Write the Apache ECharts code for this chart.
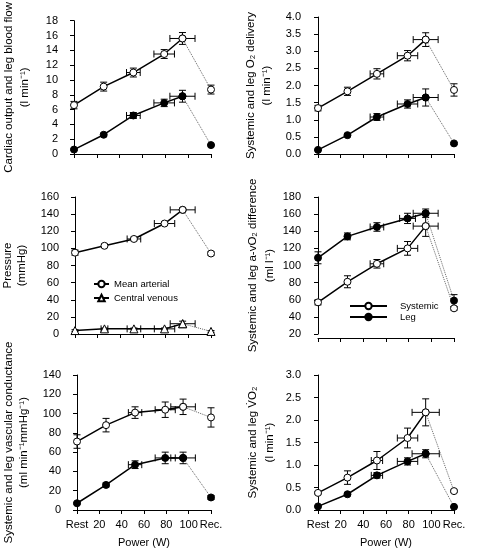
<!DOCTYPE html>
<html><head><meta charset="utf-8">
<script src="https://cdn.jsdelivr.net/npm/echarts@6/dist/echarts.min.js"></script>
<style>html,body{margin:0;padding:0;background:#fff}#c{width:480px;height:550px}</style>
</head><body><div id="c"></div>
<script>
// x positions (W): Rest, ~26, ~52, ~79, ~95 W, Rec.
const power = [0, 26, 52, 79, 95, 120];
const xTickLabels = ['Rest', '20', '40', '60', '80', '100', 'Rec.'];

// Panel 1: cardiac output (open) and leg blood flow (filled), l/min
const cardiacOutput = [6.6, 9.1, 11.0, 13.5, 15.6, 8.7];
const cardiacOutputErr = [0.5, 0.6, 0.6, 0.6, 0.8, 0.6];
const legFlow = [0.6, 2.6, 5.2, 6.9, 7.8, 1.2];
const legFlowErr = [0.1, 0.2, 0.4, 0.5, 0.8, 0.1];

// Panel 2: O2 delivery, l/min
const sysO2Del = [1.34, 1.83, 2.34, 2.87, 3.34, 1.87];
const sysO2DelErr = [0.08, 0.12, 0.15, 0.15, 0.2, 0.18];
const legO2Del = [0.12, 0.55, 1.08, 1.46, 1.65, 0.31];
const legO2DelErr = [0.02, 0.04, 0.1, 0.12, 0.25, 0.03];

// Panel 3: pressures, mmHg
const meanArterial = [95, 103, 111, 129, 145, 94];
const meanArterialErr = [3, 2, 2, 2, 2, 2];
const centralVenous = [4, 6, 6, 6, 12, 3];
const centralVenousErr = [1, 1, 1, 1, 3, 1];

// Panel 4: a-vO2 difference, ml/l
const sysAvO2 = [57, 81, 102, 120, 146, 50];
const sysAvO2Err = [3, 7, 5, 8, 12, 2];
const legAvO2 = [109, 134, 145, 155, 161, 59];
const legAvO2Err = [7, 4, 5, 6, 5, 7];

// Panel 5: vascular conductance
const sysCond = [71, 88, 101, 104, 107, 96];
const sysCondErr = [7, 7, 6, 8, 8, 10];
const legCond = [7, 26, 47, 54, 54, 13];
const legCondErr = [1, 2, 4, 6, 6, 2];

// Panel 6: VO2, l/min
const sysVO2 = [0.38, 0.72, 1.1, 1.6, 2.17, 0.42];
const sysVO2Err = [0.03, 0.15, 0.2, 0.22, 0.3, 0.03];
const legVO2 = [0.08, 0.35, 0.77, 1.08, 1.25, 0.07];
const legVO2Err = [0.01, 0.03, 0.06, 0.08, 0.09, 0.01];

// horizontal (power) error, W
const powerErr = [0, 0, 6, 9, 11, 0];
const powerErrCV = [0, 3, 6, 9, 11, 0];
const powerErrLegAv = [0, 0, 6, 7, 11, 0];
const powerErrVO2 = [0, 0, 5, 9, 12, 0];

const FONT = "'Liberation Sans', Arial, Helvetica, sans-serif";
const chart = echarts.init(document.getElementById('c'), null, {renderer: 'canvas'});

const grids = [
  {left: 74, top: 17, width: 137, height: 137},
  {left: 318, top: 17, width: 136, height: 137},
  {left: 74, top: 197, width: 137, height: 137},
  {left: 318, top: 197, width: 136, height: 137},
  {left: 74, top: 375, width: 137, height: 135},
  {left: 318, top: 375, width: 136, height: 135}
];
const yDefs = [
  {min: 0, max: 18, interval: 2, dec: 0, name: 'Cardiac output and leg blood flow\n(l min⁻¹)', gap: 33, lh: 16},
  {min: 0, max: 4, interval: 0.5, dec: 1, name: 'Systemic and leg O₂ delivery\n(l min⁻¹)', gap: 34, lh: 16},
  {min: 0, max: 160, interval: 20, dec: 0, name: 'Pressure\n(mmHg)', gap: 38, lh: 14},
  {min: 20, max: 180, interval: 20, dec: 0, name: 'Systemic and leg a-vO₂ difference\n(ml l⁻¹)', gap: 31, lh: 17},
  {min: 0, max: 140, interval: 20, dec: 0, name: 'Systemic and leg vascular conductance\n(ml min⁻¹mmHg⁻¹)', gap: 38, lh: 15},
  {min: 0, max: 3, interval: 0.5, dec: 1, name: 'Systemic and leg V̇O₂\n(l min⁻¹)', gap: 31, lh: 17}
];

const xAxes = grids.map((g, i) => ({
  type: 'value', gridIndex: i, min: 0, max: 120, interval: 20,
  offset: i >= 4 ? 3 : 4,
  axisLine: {show: true, lineStyle: {color: '#000', width: 1}},
  axisTick: {show: true, length: 4, lineStyle: {color: '#000'}},
  splitLine: {show: false},
  axisLabel: {show: i >= 4, margin: 6, fontSize: 11, color: '#000', fontFamily: FONT,
    formatter: v => xTickLabels[Math.round(v / 20)]},
  name: i >= 4 ? 'Power (W)' : '', nameLocation: 'middle', nameGap: 24,
  nameTextStyle: {fontSize: 11, color: '#000', fontFamily: FONT}
}));
const yAxes = yDefs.map((d, i) => ({
  type: 'value', gridIndex: i, min: d.min, max: d.max, interval: d.interval,
  offset: i % 2 === 0 ? 8 : 9,
  axisLine: {show: true, lineStyle: {color: '#000', width: 1}},
  axisTick: {show: true, length: 4, lineStyle: {color: '#000'}},
  splitLine: {show: false},
  axisLabel: {margin: 8, fontSize: 11, color: '#000', fontFamily: FONT,
    formatter: v => v.toFixed(d.dec)},
  name: d.name, nameLocation: 'middle', nameRotate: 90, nameGap: d.gap,
  nameTextStyle: {fontSize: 11.5, lineHeight: d.lh, color: '#000', fontFamily: FONT, align: 'center'}
}));

const series = [];
function addGroup(gi, name, vals, yerr, xerr, filled, symbol) {
  const ebData = vals.map((v, k) => [power[k], v, yerr[k], xerr[k]]);
  series.push({
    type: 'custom', xAxisIndex: gi, yAxisIndex: gi, z: 2, clip: false,
    encode: {x: 0, y: 1}, silent: true,
    data: ebData,
    renderItem: function (params, api) {
      const x = api.value(0), y = api.value(1), ye = api.value(2), xe = api.value(3);
      const ch = [];
      const st = {stroke: '#000', lineWidth: 1};
      const cap = 3.5;
      if (ye > 0) {
        const t = api.coord([x, y + ye]), b = api.coord([x, y - ye]);
        ch.push({type: 'line', shape: {x1: t[0], y1: t[1], x2: b[0], y2: b[1]}, style: st});
        ch.push({type: 'line', shape: {x1: t[0] - cap, y1: t[1], x2: t[0] + cap, y2: t[1]}, style: st});
        ch.push({type: 'line', shape: {x1: b[0] - cap, y1: b[1], x2: b[0] + cap, y2: b[1]}, style: st});
      }
      if (xe > 0) {
        const l = api.coord([x - xe, y]), r = api.coord([x + xe, y]);
        ch.push({type: 'line', shape: {x1: l[0], y1: l[1], x2: r[0], y2: r[1]}, style: st});
        ch.push({type: 'line', shape: {x1: l[0], y1: l[1] - cap, x2: l[0], y2: l[1] + cap}, style: st});
        ch.push({type: 'line', shape: {x1: r[0], y1: r[1] - cap, x2: r[0], y2: r[1] + cap}, style: st});
      }
      return {type: 'group', children: ch};
    }
  });
  const itemStyle = filled ? {color: '#000', borderColor: '#000', borderWidth: 1}
                           : {color: '#fff', borderColor: '#000', borderWidth: 1};
  const symSize = symbol === 'triangle' ? 8 : 7;
  series.push({
    type: 'line', name: name + ' (recovery)', xAxisIndex: gi, yAxisIndex: gi, z: 3,
    data: [[power[4], vals[4]], [power[5], vals[5]]],
    symbol: symbol, symbolSize: symSize, showSymbol: true, clip: false,
    itemStyle: itemStyle,
    lineStyle: {color: '#666', width: 1, type: 'dotted'}
  });
  series.push({
    type: 'line', name: name, xAxisIndex: gi, yAxisIndex: gi, z: 3,
    data: vals.slice(0, 5).map((v, k) => [power[k], v]),
    symbol: symbol, symbolSize: symSize, showSymbol: true, clip: false,
    itemStyle: itemStyle,
    lineStyle: {color: '#000', width: 1.5}
  });
}

addGroup(0, 'Cardiac output', cardiacOutput, cardiacOutputErr, powerErr, false, 'circle');
addGroup(0, 'Leg blood flow', legFlow, legFlowErr, powerErr, true, 'circle');
addGroup(1, 'Systemic O₂ delivery', sysO2Del, sysO2DelErr, powerErr, false, 'circle');
addGroup(1, 'Leg O₂ delivery', legO2Del, legO2DelErr, powerErr, true, 'circle');
addGroup(2, 'Mean arterial', meanArterial, meanArterialErr, powerErr, false, 'circle');
addGroup(2, 'Central venous', centralVenous, centralVenousErr, powerErrCV, false, 'triangle');
addGroup(3, 'Systemic', sysAvO2, sysAvO2Err, powerErr, false, 'circle');
addGroup(3, 'Leg', legAvO2, legAvO2Err, powerErrLegAv, true, 'circle');
addGroup(4, 'Systemic conductance', sysCond, sysCondErr, powerErr, false, 'circle');
addGroup(4, 'Leg conductance', legCond, legCondErr, powerErr, true, 'circle');
addGroup(5, 'Systemic VO2', sysVO2, sysVO2Err, powerErrVO2, false, 'circle');
addGroup(5, 'Leg VO2', legVO2, legVO2Err, powerErrVO2, true, 'circle');

chart.setOption({
  animation: false,
  backgroundColor: '#fff',
  textStyle: {fontFamily: FONT},
  grid: grids,
  xAxis: xAxes,
  yAxis: yAxes,
  legend: [
    {data: ['Mean arterial', 'Central venous'], orient: 'vertical', left: 93, top: 279, padding: 0,
     itemWidth: 15, itemHeight: 8, itemGap: 4, selectedMode: false,
     textStyle: {fontSize: 9.5, color: '#000', fontFamily: FONT}},
    {data: ['Systemic', 'Leg'], orient: 'vertical', left: 349, top: 301, padding: 0,
     itemWidth: 37, itemHeight: 8, itemGap: 1, selectedMode: false,
     textStyle: {fontSize: 9.5, color: '#000', fontFamily: FONT, padding: [0, 0, 0, 8]}}
  ],
  series: series
});
</script></body></html>
